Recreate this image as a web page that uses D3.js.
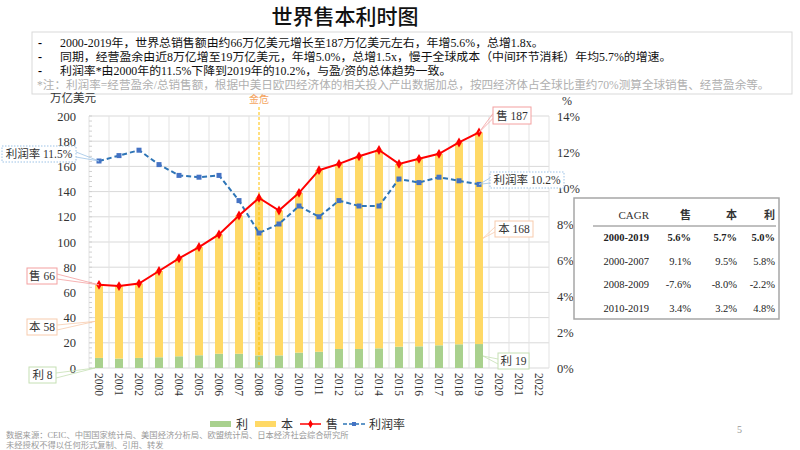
<!DOCTYPE html>
<html>
<head>
<meta charset="utf-8">
<script src="https://cdn.jsdelivr.net/npm/d3@7"></script>
<style>
  body { margin: 0; background: #fff; }
  svg { display: block; }
  text { font-family: "Liberation Serif", "Noto Sans CJK SC", serif; }
</style>
</head>
<body>
<div id="chart"></div>
<script>
const years = ["2000", "2001", "2002", "2003", "2004", "2005", "2006", "2007", "2008", "2009", "2010",
    "2011", "2012", "2013", "2014", "2015", "2016", "2017", "2018", "2019", "2020", "2021", "2022"];
const dataYears = years.slice(0, 20);
// 万亿美元
const profit = [8, 7.5, 8, 8.5, 9.3, 10.1, 11.3, 11.3, 10, 10, 12.2, 12.9, 15.1, 15.1, 15.6, 16.9, 17.2, 18, 18.8, 19];
const cost = [58, 57.5, 59, 68.5, 77.7, 85.9, 94.7, 109.7, 125, 115, 126.8, 144.1, 146.9, 152.9, 157.4, 145.1, 148.8, 152, 160.2, 168];
const sales = [66, 65, 67, 77, 87, 96, 106, 121, 135, 125, 139, 157, 162, 168, 173, 162, 166, 170, 179, 187];
// %
const profitRate = [11.5, 11.8, 12.1, 11.3, 10.7, 10.6, 10.7, 9.3, 7.5, 8.0, 9.0, 8.4, 9.3, 9.0, 9.0, 10.5, 10.3, 10.6, 10.4, 10.2];

const leftTicks = [0, 20, 40, 60, 80, 100, 120, 140, 160, 180, 200];
const rightTicks = [0, 2, 4, 6, 8, 10, 12, 14];

const title = "世界售本利时图";
const bullets = [
    "2000-2019年，世界总销售额由约66万亿美元增长至187万亿美元左右，年增5.6%，总增1.8x。",
    "同期，经营盈余由近8万亿增至19万亿美元，年增5.0%，总增1.5x，慢于全球成本（中间环节消耗）年均5.7%的增速。",
    "利润率*由2000年的11.5%下降到2019年的10.2%，与盈/资的总体趋势一致。"
];
const note = "*注：利润率=经营盈余/总销售额，根据中美日欧四经济体的相关投入产出数据加总，按四经济体占全球比重约70%测算全球销售、经营盈余等。";

const cagrHeader = ["CAGR", "售", "本", "利"];
const cagrRows = [
    ["2000-2019", "5.6%", "5.7%", "5.0%"],
    ["2000-2007", "9.1%", "9.5%", "5.8%"],
    ["2008-2009", "-7.6%", "-8.0%", "-2.2%"],
    ["2010-2019", "3.4%", "3.2%", "4.8%"]
];

const legendItems = ["利", "本", "售", "利润率"];
const sourceLines = [
    "数据来源：CEIC、中国国家统计局、美国经济分析局、欧盟统计局、日本经济社会综合研究所",
    "未经授权不得以任何形式复制、引用、转发"
];

const colors = { profit: "#a9d18e", cost: "#ffd966", sales: "#ff0000", rate: "#2e75b6" };

const svg = d3.select("#chart").append("svg")
    .attr("width", 800)
    .attr("height", 450);

// title
svg.append("text")
    .attr("x", 345).attr("y", 24)
    .attr("text-anchor", "middle")
    .style("font-family", "'Noto Sans CJK SC'")
    .style("font-size", "21px")
    .style("font-weight", "500")
    .style("fill", "#111")
    .text(title);

// summary box
svg.append("rect")
    .attr("x", 32).attr("y", 32).attr("width", 760).attr("height", 62)
    .attr("fill", "none").attr("stroke", "#d9d9d9");

bullets.forEach((t, i) => {
    svg.append("text").attr("x", 38).attr("y", 47 + i * 14)
        .style("font-size", "12px").style("font-weight", "bold").text("-");
    svg.append("text").attr("x", 60).attr("y", 47 + i * 14)
        .style("font-size", "11.9px").style("fill", "#111").text(t);
});
svg.append("text").attr("x", 37).attr("y", 89)
    .style("font-size", "11.6px").style("fill", "#b0b0b0").text(note);

// scales
const x = d3.scaleBand()
    .domain(years)
    .range([89, 549])
    .paddingInner(0.6)
    .paddingOuter(0.3);
const xc = d => x(d) + x.bandwidth() / 2;
const yL = d3.scaleLinear().domain([0, 200]).range([368, 116]);
const yR = d3.scaleLinear().domain([0, 14]).range([368, 116]);

// grid
const grid = svg.append("g");
grid.selectAll(".hgrid")
    .data(leftTicks)
    .enter().append("line")
    .attr("x1", 89).attr("x2", 549)
    .attr("y1", d => yL(d)).attr("y2", d => yL(d))
    .attr("stroke", "#d9d9d9");
grid.selectAll(".vgrid")
    .data(years.concat(["end"]))
    .enter().append("line")
    .attr("x1", (d, i) => x.range()[0] + i * x.step())
    .attr("x2", (d, i) => x.range()[0] + i * x.step())
    .attr("y1", 116).attr("y2", 368)
    .attr("stroke", "#e3e3e3");
grid.selectAll(".minor")
    .data(d3.range(0, 201, 4))
    .enter().append("line")
    .attr("x1", 89).attr("x2", 92)
    .attr("y1", d => yL(d)).attr("y2", d => yL(d))
    .attr("stroke", "#d0d0d0");

// axes
const leftAxis = svg.append("g")
    .attr("transform", "translate(89,0)")
    .call(d3.axisLeft(yL).tickValues(leftTicks).tickSize(0).tickPadding(13));
leftAxis.select(".domain").remove();
leftAxis.selectAll("text").style("font-size", "12.5px").style("font-family", "'Liberation Serif'").attr("fill", "#333");

const rightAxis = svg.append("g")
    .attr("transform", "translate(549,0)")
    .call(d3.axisRight(yR).tickValues(rightTicks).tickFormat(d => d + "%").tickSize(0).tickPadding(8));
rightAxis.select(".domain").remove();
rightAxis.selectAll("text").style("font-size", "12.5px").style("font-family", "'Liberation Serif'").attr("fill", "#333");

const xAxis = svg.append("g")
    .attr("transform", "translate(0,368)")
    .call(d3.axisBottom(x).tickSize(0).tickPadding(0));
xAxis.select(".domain").remove();
xAxis.selectAll("text")
    .attr("transform", "translate(-4,5) rotate(90)")
    .attr("dy", 0)
    .attr("y", 0)
    .style("text-anchor", "start")
    .style("font-size", "11.5px")
    .style("font-family", "'Liberation Serif'")
    .attr("fill", "#333");

svg.append("text").attr("x", 50).attr("y", 102)
    .style("font-size", "11.5px").style("fill", "#333").text("万亿美元");
svg.append("text").attr("x", 562).attr("y", 105)
    .style("font-size", "12px").style("fill", "#333").text("%");

// stacked bars
svg.selectAll(".bar-profit")
    .data(dataYears)
    .enter().append("rect")
    .attr("x", d => x(d))
    .attr("width", x.bandwidth())
    .attr("y", (d, i) => yL(profit[i]))
    .attr("height", (d, i) => yL(0) - yL(profit[i]))
    .attr("fill", colors.profit);
svg.selectAll(".bar-cost")
    .data(dataYears)
    .enter().append("rect")
    .attr("x", d => x(d))
    .attr("width", x.bandwidth())
    .attr("y", (d, i) => yL(profit[i] + cost[i]))
    .attr("height", (d, i) => yL(profit[i]) - yL(profit[i] + cost[i]))
    .attr("fill", colors.cost);

// crisis marker
svg.append("line")
    .attr("x1", xc("2008")).attr("x2", xc("2008"))
    .attr("y1", 107).attr("y2", 365)
    .attr("stroke", "#ffc000").attr("stroke-width", 1)
    .attr("stroke-dasharray", "3,2");
svg.append("text").attr("x", xc("2008")).attr("y", 103)
    .attr("text-anchor", "middle")
    .style("font-size", "10px").style("fill", "#f4a460").text("金危");

// profit rate line
const rateLine = d3.line().x((d, i) => xc(dataYears[i])).y(d => yR(d));
svg.append("path")
    .datum(profitRate)
    .attr("d", rateLine)
    .attr("fill", "none")
    .attr("stroke", colors.rate)
    .attr("stroke-width", 2)
    .attr("stroke-dasharray", "5,3");
svg.selectAll(".rate-pt")
    .data(profitRate)
    .enter().append("rect")
    .attr("x", (d, i) => xc(dataYears[i]) - 2.5)
    .attr("y", d => yR(d) - 2.5)
    .attr("width", 5).attr("height", 5)
    .attr("fill", "#4472c4");

// sales line
const salesLine = d3.line().x((d, i) => xc(dataYears[i])).y(d => yL(d));
svg.append("path")
    .datum(sales)
    .attr("d", salesLine)
    .attr("fill", "none")
    .attr("stroke", colors.sales)
    .attr("stroke-width", 2);
svg.selectAll(".sales-pt")
    .data(sales)
    .enter().append("path")
    .attr("transform", (d, i) => `translate(${xc(dataYears[i])},${yL(d)})`)
    .attr("d", d3.symbol().type(d3.symbolDiamond).size(28))
    .attr("fill", colors.sales);

// callouts
function callout(label, bx, by, bw, bh, ax, ay, color, dashed) {
    const g = svg.append("g");
    const side = ax > bx + bw ? bx + bw : bx;
    const cy = by + bh / 2;
    g.append("path")
        .attr("d", `M${side},${cy - 2}L${ax},${ay}L${side},${cy + 3}`)
        .attr("fill", "none")
        .attr("stroke", color)
        .attr("stroke-width", 0.8);
    g.append("rect")
        .attr("x", bx).attr("y", by).attr("width", bw).attr("height", bh)
        .attr("fill", "#fff")
        .attr("stroke", color)
        .attr("stroke-width", 1)
        .attr("stroke-dasharray", dashed ? "1.5,1.5" : null);
    g.append("text")
        .attr("x", bx + bw / 2).attr("y", by + bh / 2 + 4.2)
        .attr("text-anchor", "middle")
        .style("font-size", "11.5px")
        .style("fill", "#333")
        .text(label);
}
const first = dataYears[0];
const last = dataYears[dataYears.length - 1];
callout("售 " + sales[0], 27, 268, 30, 16, xc(first), yL(sales[0]), "#f4a0a0", false);
callout("本 " + cost[0], 27, 319, 30, 16, x(first), yL(profit[0] + cost[0] / 2), "#f8cbad", false);
callout("利 " + profit[0], 29, 367, 27, 16, x(first), yL(0), "#c5e0b4", false);
callout("利润率 " + profitRate[0] + "%", 2, 146, 74, 16, xc(first), yR(profitRate[0]), "#9dc3e6", true);
callout("售 " + sales[19], 493, 107, 38, 17, xc(last), yL(sales[19]), "#f4a0a0", false);
callout("利润率 " + profitRate[19] + "%", 490, 172, 74, 16, xc(last), yR(profitRate[19]), "#9dc3e6", true);
callout("本 " + cost[19], 495, 221, 38, 16, x(last) + x.bandwidth(), yL(profit[19] + cost[19] / 2), "#f8cbad", false);
callout("利 " + profit[19], 498, 353, 31, 16, x(last) + x.bandwidth(), yL(profit[19] / 2), "#c5e0b4", false);

// CAGR table
svg.append("rect")
    .attr("x", 574).attr("y", 198).attr("width", 205).attr("height", 121)
    .attr("fill", "#fff").attr("stroke", "#a6a6a6").attr("stroke-width", 1.5);
const colX = [649, 691, 737, 775];
cagrHeader.forEach((h, j) => {
    svg.append("text").attr("x", colX[j]).attr("y", 219)
        .attr("text-anchor", "end")
        .style("font-size", "11px")
        .style("font-weight", j > 0 ? "bold" : "normal")
        .style("fill", "#333")
        .text(h);
});
svg.append("line")
    .attr("x1", 593).attr("x2", 776).attr("y1", 226).attr("y2", 226)
    .attr("stroke", "#808080").attr("stroke-width", 1);
cagrRows.forEach((row, i) => {
    row.forEach((v, j) => {
        svg.append("text").attr("x", colX[j]).attr("y", 241 + i * 23.7)
            .attr("text-anchor", "end")
            .style("font-size", "10.5px")
            .style("font-weight", i === 0 ? "bold" : "normal")
            .style("fill", "#222")
            .text(v);
    });
});

// legend
const legend = svg.append("g").attr("transform", "translate(0,424)");
const legX = [210, 255, 300, 343];
legendItems.forEach((name, i) => {
    const g = legend.append("g").attr("transform", `translate(${legX[i]},0)`);
    if (i < 2) {
        g.append("rect").attr("x", 0).attr("y", -3).attr("width", 21).attr("height", 6)
            .attr("fill", i === 0 ? colors.profit : colors.cost);
    } else if (i === 2) {
        g.append("line").attr("x1", 0).attr("x2", 21).attr("y1", 0).attr("y2", 0)
            .attr("stroke", colors.sales).attr("stroke-width", 1.5);
        g.append("path").attr("transform", "translate(10.5,0)")
            .attr("d", d3.symbol().type(d3.symbolDiamond).size(20)).attr("fill", colors.sales);
    } else {
        g.append("line").attr("x1", 0).attr("x2", 22).attr("y1", 0).attr("y2", 0)
            .attr("stroke", colors.rate).attr("stroke-width", 1.5).attr("stroke-dasharray", "4,2");
        g.append("rect").attr("x", 9).attr("y", -2).attr("width", 4).attr("height", 4).attr("fill", "#4472c4");
    }
    g.append("text").attr("x", 26).attr("y", 4.5)
        .style("font-size", "12px").style("fill", "#333").text(name);
});

// source
sourceLines.forEach((t, i) => {
    svg.append("text").attr("x", 6).attr("y", 438 + i * 10)
        .style("font-size", "8.3px").style("fill", "#999").text(t);
});
svg.append("text").attr("x", 737).attr("y", 433)
    .style("font-size", "10px").style("fill", "#999").text("5");
</script>
</body>
</html>
